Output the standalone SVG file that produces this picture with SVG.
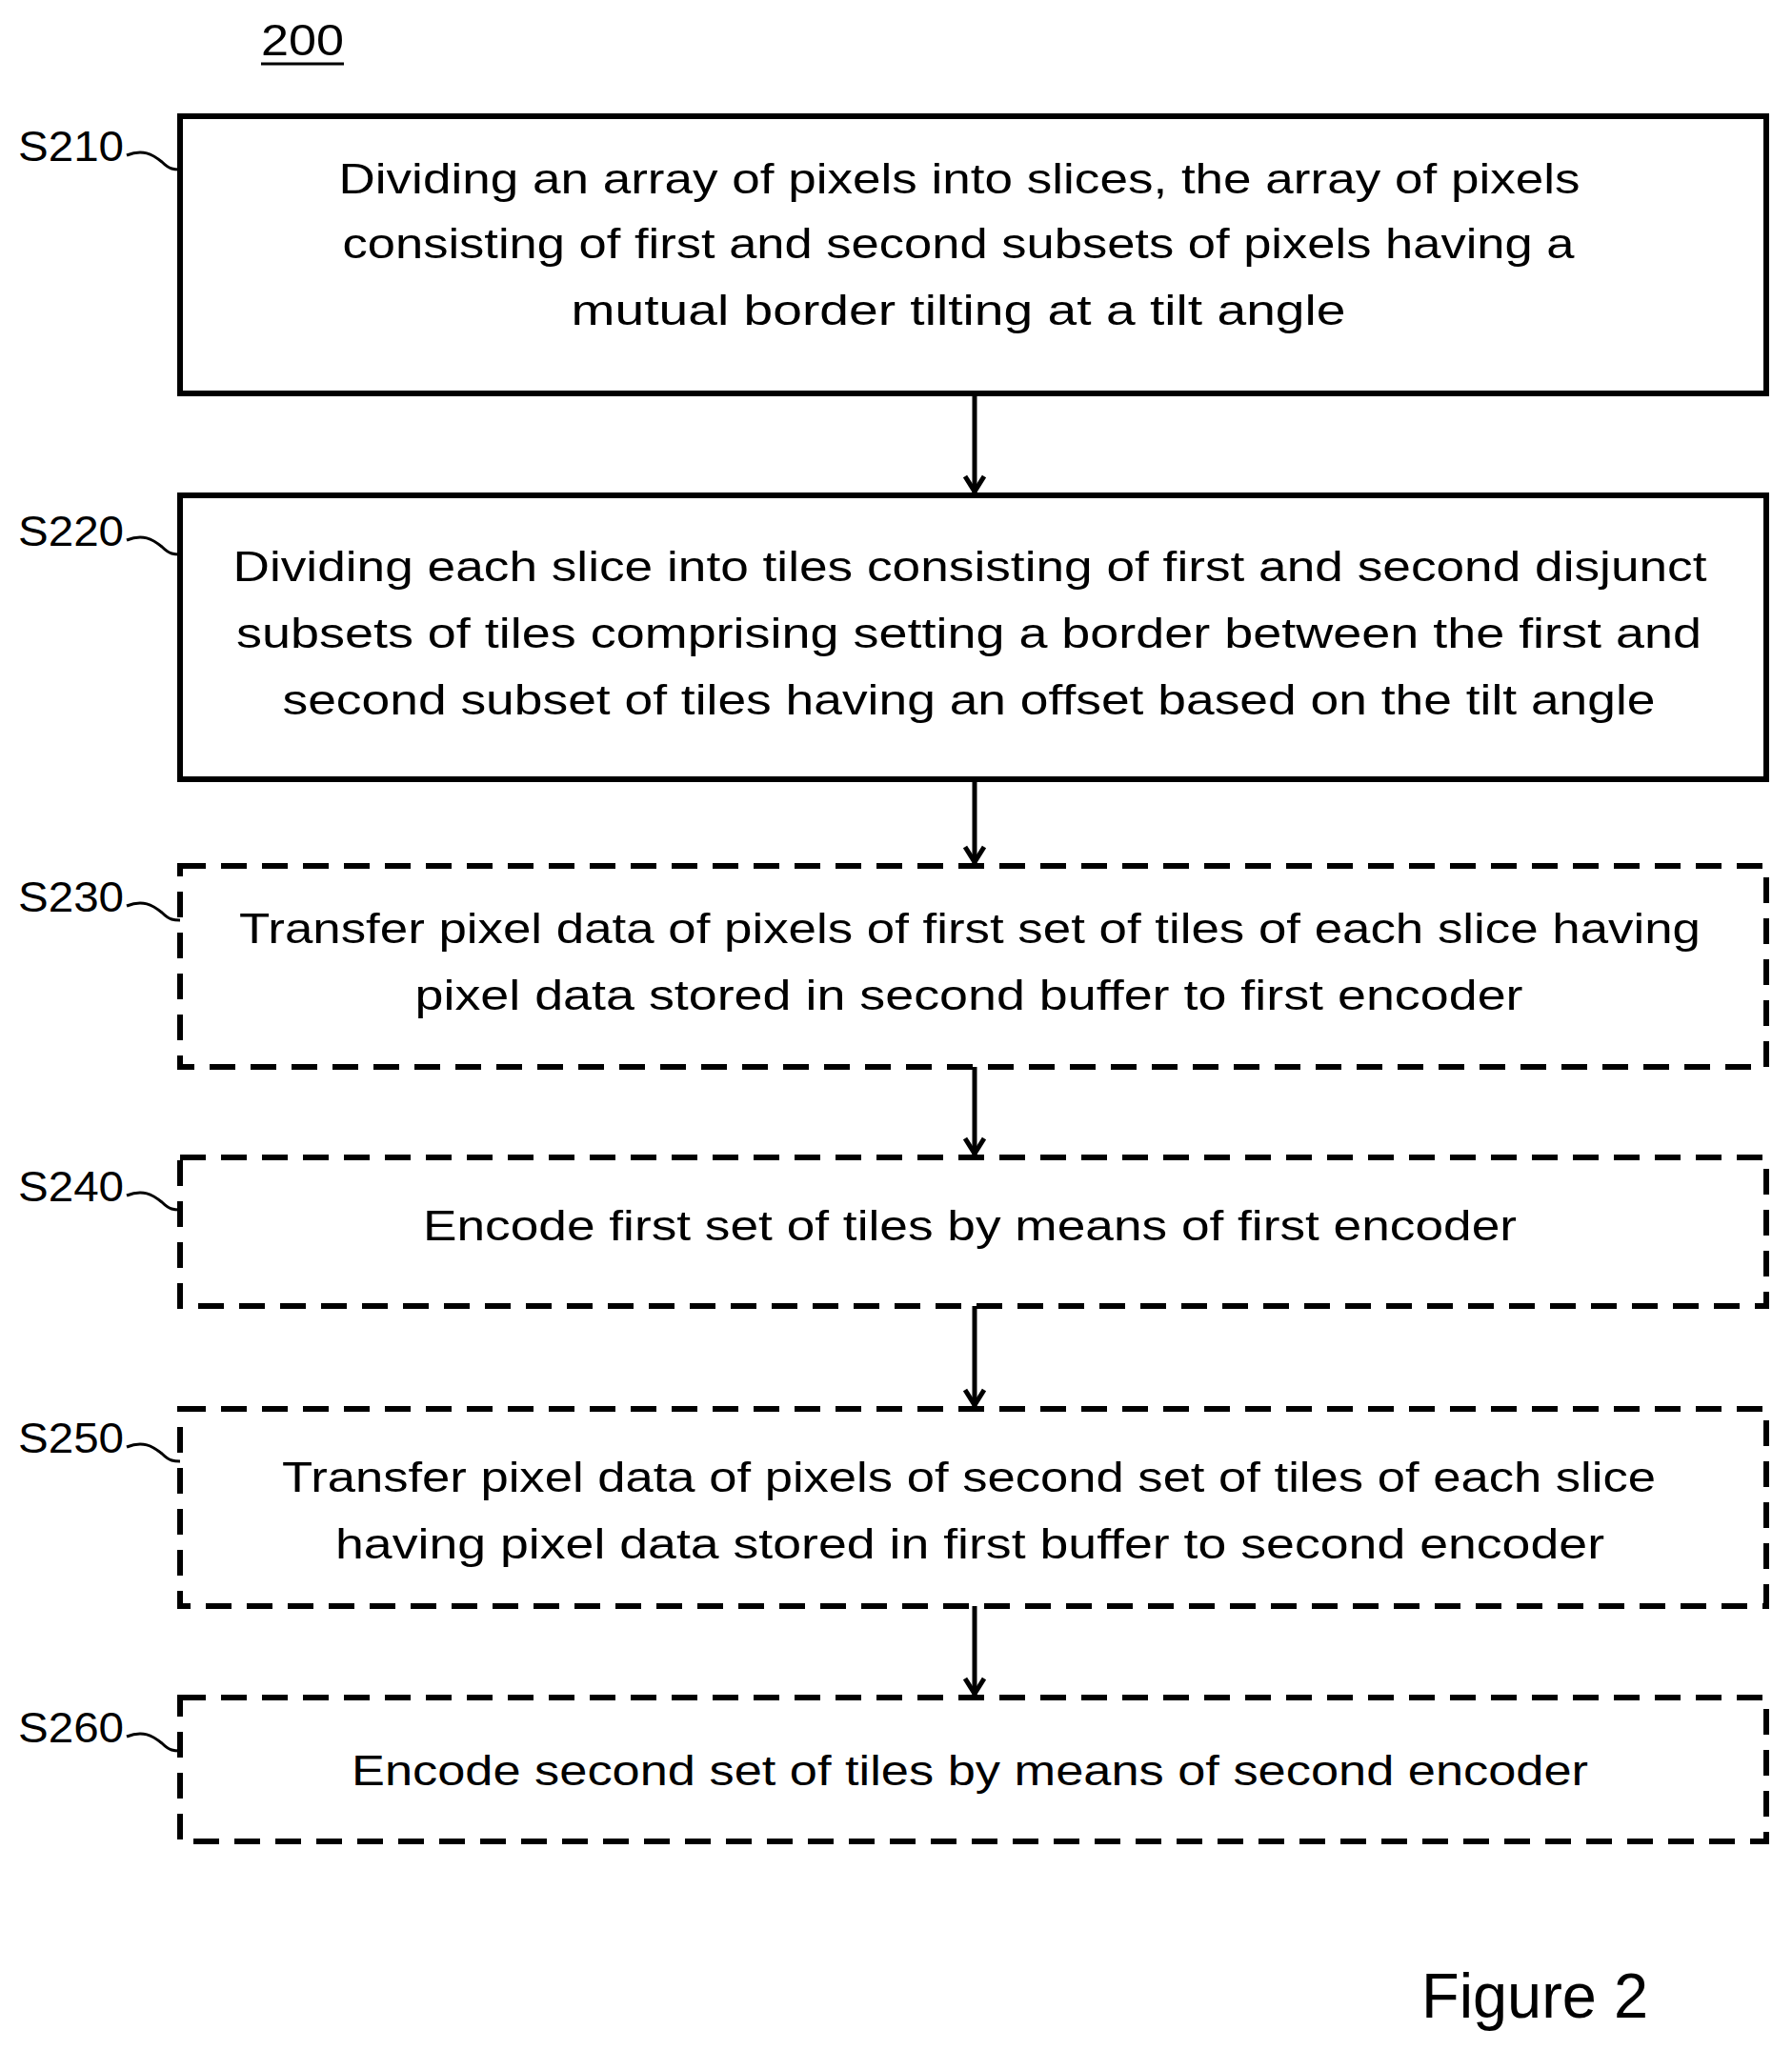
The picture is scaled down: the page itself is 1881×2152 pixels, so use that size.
<svg xmlns="http://www.w3.org/2000/svg" width="1881" height="2152" viewBox="0 0 1881 2152">
<style>
text{font-family:"Liberation Sans",Arial,sans-serif;fill:#000}
.t{font-size:44px;text-anchor:middle}
.l{font-size:44px}
.box{fill:none;stroke:#000;stroke-width:6}
.d{stroke-dasharray:27 16}
.c{fill:none;stroke:#000;stroke-width:5}
.sq{fill:none;stroke:#000;stroke-width:3}
</style>
<defs>
<marker id="ah" viewBox="0 0 24 24" refX="21" refY="12" markerWidth="24" markerHeight="24" markerUnits="userSpaceOnUse" orient="auto">
<polyline points="4,2 20,12 4,22" fill="none" stroke="#000" stroke-width="5"/>
</marker>
</defs>
<rect width="1881" height="2152" fill="#fff"/>
<text x="274" y="58" font-size="46" textLength="87" lengthAdjust="spacingAndGlyphs">200</text>
<line x1="274" y1="67" x2="361" y2="67" stroke="#000" stroke-width="3"/>
<g id="S210">
<rect class="box" x="189" y="122" width="1665" height="291"/>
<text class="l" x="19" y="169" textLength="111" lengthAdjust="spacingAndGlyphs">S210</text>
<path class="sq" d="M133,163 C150,156 160,162 170,170 C178,178 183,178 189,178"/>
<text class="t" x="1007" y="203" textLength="1303" lengthAdjust="spacingAndGlyphs">Dividing an array of pixels into slices, the array of pixels</text>
<text class="t" x="1006" y="271" textLength="1293" lengthAdjust="spacingAndGlyphs">consisting of first and second subsets of pixels having a</text>
<text class="t" x="1006" y="341" textLength="813" lengthAdjust="spacingAndGlyphs">mutual border tilting at a tilt angle</text>
</g>
<g id="S220">
<rect class="box" x="189" y="520" width="1665" height="298"/>
<text class="l" x="19" y="573" textLength="111" lengthAdjust="spacingAndGlyphs">S220</text>
<path class="sq" d="M133,567 C150,560 160,566 170,574 C178,582 183,582 189,582"/>
<text class="t" x="1018" y="610" textLength="1547" lengthAdjust="spacingAndGlyphs">Dividing each slice into tiles consisting of first and second disjunct</text>
<text class="t" x="1017" y="680" textLength="1538" lengthAdjust="spacingAndGlyphs">subsets of tiles comprising setting a border between the first and</text>
<text class="t" x="1017" y="750" textLength="1441" lengthAdjust="spacingAndGlyphs">second subset of tiles having an offset based on the tilt angle</text>
</g>
<g id="S230">
<rect class="box d" x="189" y="909" width="1665" height="211"/>
<text class="l" x="19" y="957" textLength="111" lengthAdjust="spacingAndGlyphs">S230</text>
<path class="sq" d="M133,951 C150,944 160,950 170,958 C178,966 183,966 189,966"/>
<text class="t" x="1018" y="990" textLength="1534" lengthAdjust="spacingAndGlyphs">Transfer pixel data of pixels of first set of tiles of each slice having</text>
<text class="t" x="1017" y="1060" textLength="1163" lengthAdjust="spacingAndGlyphs">pixel data stored in second buffer to first encoder</text>
</g>
<g id="S240">
<rect class="box d" x="189" y="1215" width="1665" height="156"/>
<text class="l" x="19" y="1261" textLength="111" lengthAdjust="spacingAndGlyphs">S240</text>
<path class="sq" d="M133,1255 C150,1248 160,1254 170,1262 C178,1270 183,1270 189,1270"/>
<text class="t" x="1018" y="1302" textLength="1148" lengthAdjust="spacingAndGlyphs">Encode first set of tiles by means of first encoder</text>
</g>
<g id="S250">
<rect class="box d" x="189" y="1479" width="1665" height="207"/>
<text class="l" x="19" y="1525" textLength="111" lengthAdjust="spacingAndGlyphs">S250</text>
<path class="sq" d="M133,1519 C150,1512 160,1518 170,1526 C178,1534 183,1534 189,1534"/>
<text class="t" x="1017" y="1566" textLength="1442" lengthAdjust="spacingAndGlyphs">Transfer pixel data of pixels of second set of tiles of each slice</text>
<text class="t" x="1018" y="1636" textLength="1332" lengthAdjust="spacingAndGlyphs">having pixel data stored in first buffer to second encoder</text>
</g>
<g id="S260">
<rect class="box d" x="189" y="1782" width="1665" height="151"/>
<text class="l" x="19" y="1829" textLength="111" lengthAdjust="spacingAndGlyphs">S260</text>
<path class="sq" d="M133,1823 C150,1816 160,1822 170,1830 C178,1838 183,1838 189,1838"/>
<text class="t" x="1018" y="1874" textLength="1298" lengthAdjust="spacingAndGlyphs">Encode second set of tiles by means of second encoder</text>
</g>
<g id="connectors">
<line class="c" x1="1023" y1="413" x2="1023" y2="517" marker-end="url(#ah)"/>
<line class="c" x1="1023" y1="818" x2="1023" y2="906" marker-end="url(#ah)"/>
<line class="c" x1="1023" y1="1120" x2="1023" y2="1212" marker-end="url(#ah)"/>
<line class="c" x1="1023" y1="1371" x2="1023" y2="1476" marker-end="url(#ah)"/>
<line class="c" x1="1023" y1="1686" x2="1023" y2="1779" marker-end="url(#ah)"/>
</g>
<text x="1492" y="2118" font-size="66" textLength="238" lengthAdjust="spacingAndGlyphs">Figure 2</text>
</svg>
